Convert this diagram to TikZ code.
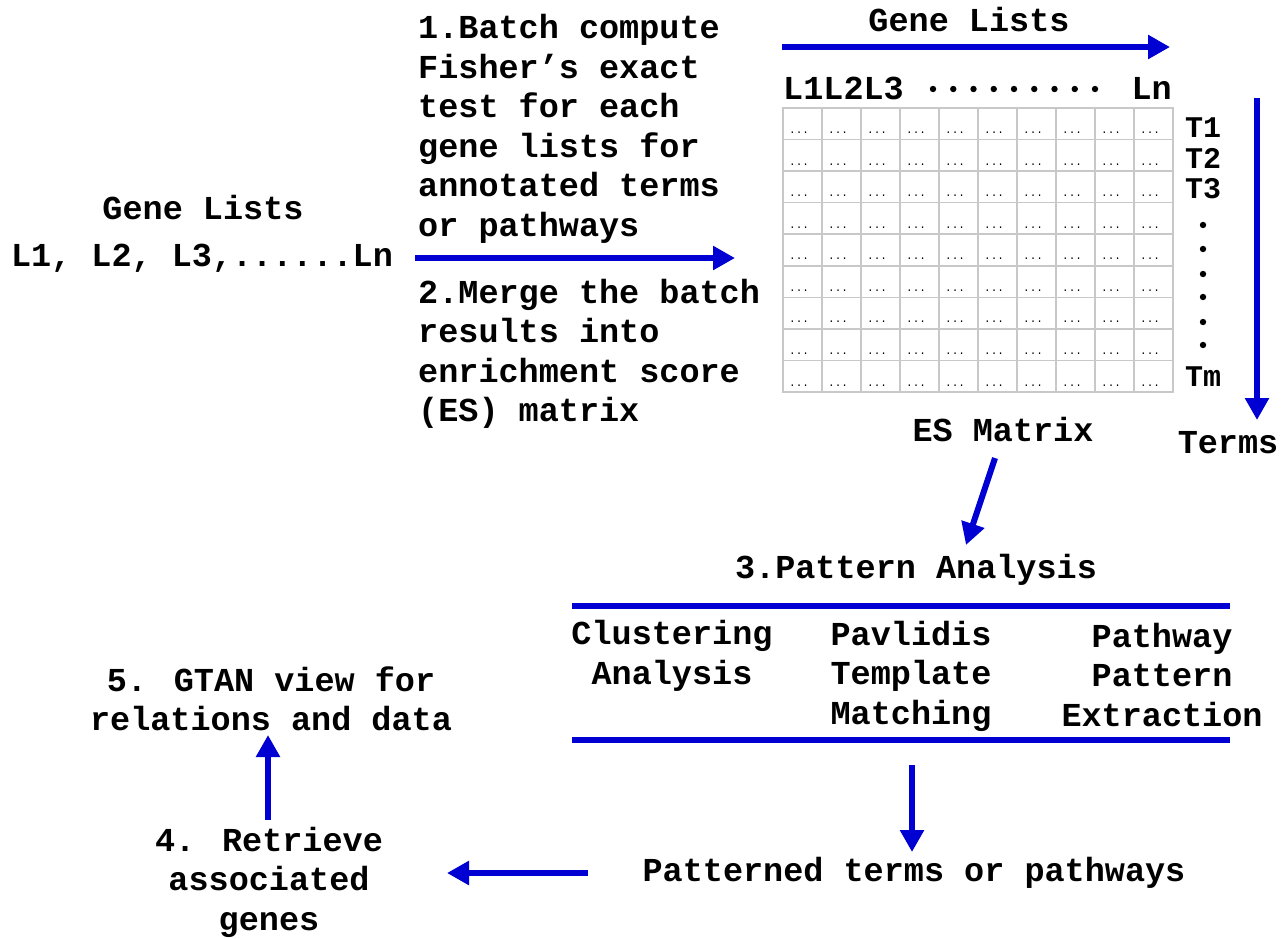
\documentclass[tikz,border=0pt]{standalone}
\usepackage{fontspec}
\setmainfont{Liberation Mono}
\usetikzlibrary{arrows.meta}
\definecolor{arrblue}{RGB}{0,0,210}
\definecolor{gridgray}{RGB}{200,200,200}
\tikzset{
  txt/.style={font=\fontsize{33.5}{39.5}\selectfont\bfseries, inner sep=0pt, align=center},
  txtl/.style={txt, align=left, anchor=west},
  tlab/.style={font=\fontsize{30}{30}\selectfont\bfseries, inner sep=0pt},
  arr/.style={draw=arrblue, line width=6pt, -{Triangle[length=22pt,width=23pt]}},
  bar/.style={draw=arrblue, line width=6pt},
  cell/.style={draw=gridgray, line width=1.5pt},
  celltxt/.style={font=\fontsize{11}{11}\selectfont, inner sep=0pt, anchor=base west},
  bigdot/.style={fill=black},
}
\begin{document}
\begin{tikzpicture}[x=1pt,y=-1pt]
\useasboundingbox (0,0) rectangle (1284,938);
% left gene lists
\node[txt] (gl) at (203,208) {Gene Lists};
\node[txt] (ll) at (202,258) {L1, L2, L3,......Ln};
% step texts
\node[txtl] (s1) at (418,129) {1.Batch compute\\Fisher’s exact\\test for each\\gene lists for\\annotated terms\\or pathways};
\node[txtl] (s2) at (418,354) {2.Merge the batch\\results into\\enrichment score\\(ES) matrix};
% arrow 1
\coordinate (a1s) at (415,258);
\coordinate (a1e) at (735,258);
\draw[arr] (a1s) -- (a1e);
% top gene lists
\node[txt] (gl2) at (969,20) {Gene Lists};
\coordinate (tas) at (782,47);
\coordinate (tae) at (1170,47);
\draw[arr] (tas) -- (tae);
\node[txt, anchor=west] (hl) at (783,88) {L1L2L3};
\foreach \i in {0,...,8}{
  \fill[bigdot] ({933+20.25*\i},89) circle (3.2pt);
}
\node[txt, anchor=east] (hn) at (1172,88) {Ln};
% matrix
\foreach \c in {0,...,9}{
  \foreach \r in {0,...,8}{
    \draw[cell] ({783+39*\c},{108+31.56*\r}) rectangle ({783+39*(\c+1)},{108+31.56*(\r+1)});
    \node[celltxt] at ({783+39*\c+6},{108+31.56*(\r+1)-6}) {...};
  }
}
\node[tlab] (t1) at (1203,128) {T1};
\node[tlab] (t2) at (1203,158) {T2};
\node[tlab] (t3) at (1203,189) {T3};
\foreach \y in {225,249,274,297,322,345}{
  \fill[bigdot] (1203,\y) circle (3.2pt);
}
\node[tlab] (tm) at (1203,377) {Tm};
\coordinate (ts) at (1257,98);
\coordinate (te) at (1257,420);
\draw[arr] (ts) -- (te);
\node[txt] (terms) at (1228,443) {Terms};
\node[txt] (es) at (1003,430) {ES Matrix};
% diagonal
\coordinate (ds) at (995,458);
\coordinate (de) at (966,545);
\draw[arr] (ds) -- (de);
% pattern analysis
\node[txt] (pa) at (916,570) {3.Pattern Analysis};
\coordinate (b1s) at (572,606);
\coordinate (b1e) at (1230,606);
\coordinate (b2s) at (572,740);
\coordinate (b2e) at (1230,740);
\draw[bar] (b1s) -- (b1e);
\draw[bar] (b2s) -- (b2e);
\node[txt] (ca) at (672,656) {Clustering\\Analysis};
\node[txt] (pt) at (911,676) {Pavlidis\\Template\\Matching};
\node[txt] (pp) at (1162,675) {Pathway\\Pattern\\Extraction};
% down arrow
\coordinate (das) at (912,765);
\coordinate (dae) at (912,852);
\draw[arr] (das) -- (dae);
\node[txt] (ptp) at (914,873) {Patterned terms or pathways};
\coordinate (las) at (588,873);
\coordinate (lae) at (447,873);
\draw[arr] (las) -- (lae);
\node[txt] (rg) at (269,882) {4. Retrieve\\associated\\genes};
\coordinate (uas) at (268,820);
\coordinate (uae) at (268,735);
\draw[arr] (uas) -- (uae);
\node[txt] (gt) at (271,699) {5. GTAN view for\\relations and data};
\end{tikzpicture}
\end{document}
